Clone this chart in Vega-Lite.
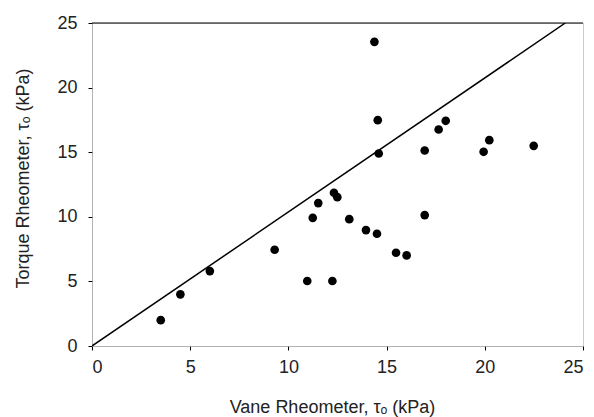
{
  "$schema": "https://vega.github.io/schema/vega-lite/v6.json",
  "width": 491,
  "height": 323,
  "autosize": "none",
  "padding": {"left": 92, "top": 23, "right": 11, "bottom": 71},
  "background": "white",
  "config": {
    "view": {"stroke": "#999", "strokeDash": [1, 1], "strokeWidth": 1},
    "font": "Liberation Sans"
  },
  "datasets": {
    "pts": [
      {"vane": 3.5, "torque": 2.0},
      {"vane": 4.5, "torque": 4.0},
      {"vane": 6.0, "torque": 5.8},
      {"vane": 9.3, "torque": 7.45},
      {"vane": 10.96, "torque": 5.03},
      {"vane": 11.24, "torque": 9.92},
      {"vane": 11.52, "torque": 11.06},
      {"vane": 12.24, "torque": 5.03},
      {"vane": 12.32, "torque": 11.86},
      {"vane": 12.49, "torque": 11.52},
      {"vane": 13.1, "torque": 9.82},
      {"vane": 13.95, "torque": 8.97},
      {"vane": 14.38, "torque": 23.54},
      {"vane": 14.51, "torque": 8.69},
      {"vane": 14.55, "torque": 17.48},
      {"vane": 14.6, "torque": 14.9},
      {"vane": 15.48, "torque": 7.22},
      {"vane": 16.02, "torque": 7.01},
      {"vane": 16.94, "torque": 15.13},
      {"vane": 16.94, "torque": 10.13},
      {"vane": 17.65, "torque": 16.76},
      {"vane": 18.01, "torque": 17.43},
      {"vane": 19.94, "torque": 15.03},
      {"vane": 20.23, "torque": 15.93},
      {"vane": 22.49, "torque": 15.49}
    ],
    "fit": [
      {"vane": 0, "torque": 0},
      {"vane": 24.1, "torque": 25}
    ],
    "top": [
      {"vane": 0, "vane2": 25, "torque": 25}
    ]
  },
  "layer": [
    {
      "data": {"name": "pts"},
      "mark": {"type": "point", "filled": true, "color": "black", "opacity": 1, "size": 75},
      "encoding": {
        "x": {
          "field": "vane", "type": "quantitative",
          "scale": {"domain": [0, 25], "nice": false, "zero": true},
          "axis": {
            "title": "Vane Rheometer, τₒ (kPa)",
            "values": [0, 5, 10, 15, 20, 25],
            "grid": false,
            "domainColor": "#999", "domainDash": [1, 1],
            "tickColor": "black", "tickSize": 4,
            "labelFontSize": 18, "labelColor": "#222", "labelPadding": 8,
            "titleFontSize": 18, "titleFontWeight": "normal", "titleColor": "#222",
            "titleX": 240, "titleY": 66, "titleBaseline": "alphabetic", "titleAnchor": "middle"
          }
        },
        "y": {
          "field": "torque", "type": "quantitative",
          "scale": {"domain": [0, 25], "nice": false, "zero": true},
          "axis": {
            "title": "Torque Rheometer, τₒ (kPa)",
            "values": [0, 5, 10, 15, 20, 25],
            "grid": false,
            "domainColor": "#999", "domainDash": [1, 1],
            "tickColor": "black", "tickSize": 4,
            "labelFontSize": 18, "labelColor": "#222", "labelPadding": 11,
            "titleFontSize": 18, "titleFontWeight": "normal", "titleColor": "#222",
            "titleX": -64, "titleY": 155, "titleBaseline": "alphabetic", "titleAnchor": "middle", "titleAngle": -90
          }
        }
      }
    },
    {
      "data": {"name": "fit"},
      "mark": {"type": "line", "color": "black", "strokeWidth": 1.5, "clip": true},
      "encoding": {
        "x": {"field": "vane", "type": "quantitative"},
        "y": {"field": "torque", "type": "quantitative"}
      }
    },
    {
      "data": {"name": "top"},
      "mark": {"type": "rule", "color": "black", "strokeWidth": 1.2},
      "encoding": {
        "x": {"field": "vane", "type": "quantitative"},
        "x2": {"field": "vane2"},
        "y": {"field": "torque", "type": "quantitative"}
      }
    }
  ]
}
